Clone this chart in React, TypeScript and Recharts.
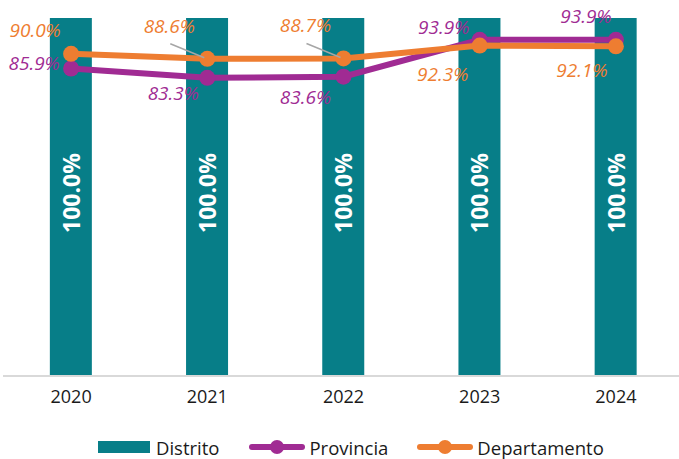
import {
  ComposedChart,
  Bar,
  Line,
  XAxis,
  YAxis,
  Legend,
  LabelList,
} from "recharts";

const years = ["2020", "2021", "2022", "2023", "2024"];
const distrito = [100.0, 100.0, 100.0, 100.0, 100.0];
const provincia = [85.9, 83.3, 83.6, 93.9, 93.9];
const departamento = [90.0, 88.6, 88.7, 92.3, 92.1];

const data = years.map((year, i) => ({
  year,
  Distrito: distrito[i],
  Provincia: provincia[i],
  Departamento: departamento[i],
}));

const TEAL = "#077E88";
const PURPLE = "#A02B93";
const ORANGE = "#EE7D31";
const FONT = "'Open Sans', 'Noto Sans', sans-serif";

// label offsets (label centre relative to the point)
const provOffsets = [
  [-37, -5],
  [-34, 15],
  [-38, 20],
  [-36, -13],
  [-30, -24],
];
const depOffsets = [
  [-36, -24],
  [-38, -33],
  [-38, -33],
  [-37, 28],
  [-34, 24],
];
const depLeader = [false, true, true, false, false];

const pct = (v: number) => `${v.toFixed(1)}%`;

const lineLabel = (color: string, offsets: number[][], leader?: boolean[]) =>
  (props: any) => {
    const { x, y, value, index } = props;
    const [dx, dy] = offsets[index];
    return (
      <g>
        {leader && leader[index] && (
          <line
            x1={x - 37}
            y1={y - 15}
            x2={x - 3}
            y2={y - 1}
            stroke="#A6A6A6"
            strokeWidth={1.5}
          />
        )}
        <text
          x={x + dx}
          y={y + dy + 7}
          textAnchor="middle"
          fill={color}
          fontFamily={FONT}
          fontStyle="italic"
          fontSize={19}
        >
          {pct(value)}
        </text>
      </g>
    );
  };

const barLabel = (props: any) => {
  const { x, y, width, height, value } = props;
  const cx = x + width / 2;
  const cy = y + height / 2 - 4;
  return (
    <text
      x={cx}
      y={cy}
      dy={9}
      transform={`rotate(-90 ${cx} ${cy})`}
      textAnchor="middle"
      fill="#ffffff"
      fontFamily={FONT}
      fontWeight={700}
      fontSize={23}
    >
      {pct(value)}
    </text>
  );
};

const LineIcon = ({ color }: { color: string }) => (
  <svg width={56} height={18} style={{ display: "block" }}>
    <line x1={3} y1={9} x2={53} y2={9} stroke={color} strokeWidth={6} strokeLinecap="round" />
    <circle cx={28} cy={9} r={7} fill={color} />
  </svg>
);

const renderLegend = () => (
  <div
    style={{
      display: "flex",
      alignItems: "center",
      height: 24,
      paddingTop: 4,
      paddingLeft: 98,
      fontFamily: FONT,
      fontSize: 18.5,
      color: "#1a1a1a",
    }}
  >
    <div style={{ width: 52, height: 12, background: TEAL, marginRight: 6 }} />
    <span style={{ marginRight: 30 }}>Distrito</span>
    <LineIcon color={PURPLE} />
    <span style={{ marginLeft: 4, marginRight: 29 }}>Provincia</span>
    <LineIcon color={ORANGE} />
    <span style={{ marginLeft: 4 }}>Departamento</span>
  </div>
);

export default function App() {
  return (
    <div
      style={{
        position: "absolute",
        left: 0,
        top: 0,
        width: 679,
        height: 459,
        overflow: "hidden",
        background: "#fff",
      }}
    >
      <ComposedChart
        width={687}
        height={459}
        data={data}
        margin={{ top: 18, right: 3, left: 3, bottom: 0 }}
        barCategoryGap="34.4%"
      >
        <XAxis
          dataKey="year"
          height={55}
          axisLine={{ stroke: "#D9D9D9", strokeWidth: 2 }}
          tickLine={false}
          tickMargin={8}
          tick={{ fill: "#1a1a1a", fontFamily: FONT, fontSize: 18 }}
        />
        <YAxis hide domain={[0, 100]} />
        <Legend
          verticalAlign="bottom"
          content={renderLegend}
          wrapperStyle={{ left: 0, width: 679 }}
        />
        <Bar dataKey="Distrito" fill={TEAL} isAnimationActive={false}>
          <LabelList dataKey="Distrito" content={barLabel} />
        </Bar>
        <Line
          dataKey="Provincia"
          stroke={PURPLE}
          strokeWidth={6}
          dot={{ r: 8, fill: PURPLE, stroke: "none" }}
          activeDot={false}
          isAnimationActive={false}
        >
          <LabelList dataKey="Provincia" content={lineLabel(PURPLE, provOffsets)} />
        </Line>
        <Line
          dataKey="Departamento"
          stroke={ORANGE}
          strokeWidth={6}
          dot={{ r: 8, fill: ORANGE, stroke: "none" }}
          activeDot={false}
          isAnimationActive={false}
        >
          <LabelList
            dataKey="Departamento"
            content={lineLabel(ORANGE, depOffsets, depLeader)}
          />
        </Line>
      </ComposedChart>
    </div>
  );
}
